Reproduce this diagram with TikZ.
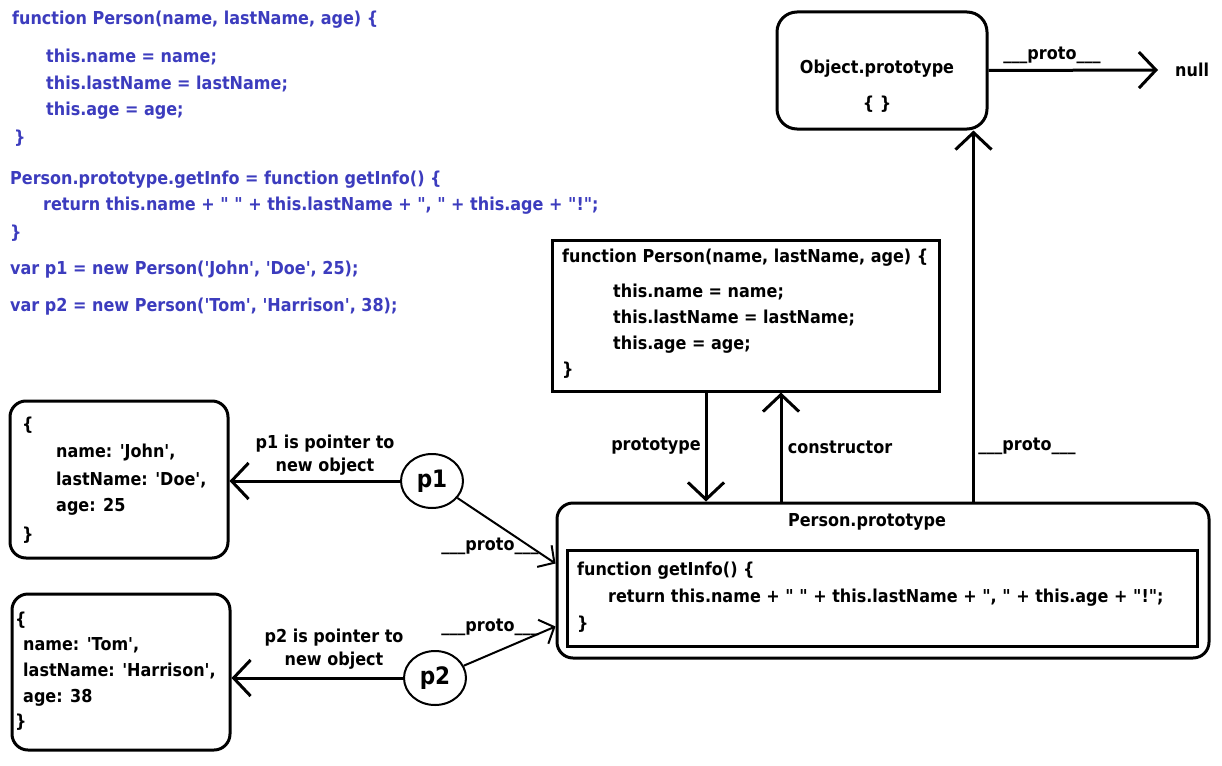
\documentclass[tikz,border=0pt]{standalone}
\usepackage{fontspec}
\setmainfont{DejaVu Sans}[Ligatures=TeXOff,FakeStretch=0.9]
\usetikzlibrary{arrows.meta,shapes.geometric}
\definecolor{codeblue}{RGB}{60,60,190}
\begin{document}
\begin{tikzpicture}[x=1pt,y=-1pt,
  txt/.style={anchor=west,inner sep=0pt,font=\fontsize{17.8}{20}\selectfont\bfseries},
  btxt/.style={txt,text=codeblue},
  ctxt/.style={txt,anchor=center},
  box/.style={draw,line width=3pt,inner sep=0pt},
  rbox/.style={box,rounded corners=16pt},
  ptr/.style={draw,ellipse,line width=2pt,minimum width=62pt,minimum height=54pt,inner sep=0pt,font=\fontsize{24}{26}\selectfont\bfseries},
  arr/.style={line width=3pt,-{Straight Barb[length=17pt,width=36pt]}},
  arrs/.style={line width=2pt,-{Straight Barb[length=12pt,width=26pt]}}]
\useasboundingbox[fill=white] (0,0) rectangle (1222,765);

% top-left code
\node[btxt] (c1) at (12,20) {function Person(name, lastName, age) \{};
\node[btxt] (c2) at (46,57) {this.name = name;};
\node[btxt] (c3) at (46,84) {this.lastName = lastName;};
\node[btxt] (c4) at (46,111) {this.age = age;};
\node[btxt] (c5) at (14,138) {\}};
\node[btxt] (c6) at (10,180) {Person.prototype.getInfo = function getInfo() \{};
\node[btxt] (c7) at (43,206) {return this.name + " " + this.lastName + ", " + this.age + "!";};
\node[btxt] (c8) at (10,233) {\}};
\node[btxt] (c9) at (10,270) {var p1 = new Person('John', 'Doe', 25);};
\node[btxt] (c10) at (10,307) {var p2 = new Person('Tom', 'Harrison', 38);};

% constructor box
\node[box,minimum width=387pt,minimum height=151pt] (ctor) at (745.5,315.5) {};
\node[txt] (k1) at (562,258) {function Person(name, lastName, age) \{};
\node[txt] (k2) at (613,292) {this.name = name;};
\node[txt] (k3) at (613,318) {this.lastName = lastName;};
\node[txt] (k4) at (613,345) {this.age = age;};
\node[txt] (k5) at (562,370) {\}};

% Object.prototype
\node[rbox,rounded corners=20pt,minimum width=210pt,minimum height=117pt] (objproto) at (882,70.5) {};
\node[ctxt] (o1) at (877,69) {Object.prototype};
\node[ctxt] (o2) at (877,104) {\{ \}};
\node[txt] (null) at (1175,70) {null};
\draw[arr] (objproto.east) -- ([xshift=-17pt]null.west);
\node[ctxt] (l0) at (1052,55) {\_\_\_proto\_\_\_};

% Person.prototype
\node[rbox,minimum width=652pt,minimum height=155pt] (pproto) at (883,580.5) {};
\node[ctxt] (pp) at (867,522) {Person.prototype};
\node[box,minimum width=630pt,minimum height=96pt] (inner) at (882,598) {};
\node[txt] (g1) at (577,571) {function getInfo() \{};
\node[txt] (g2) at (608,598) {return this.name + " " + this.lastName + ", " + this.age + "!";};
\node[txt] (g3) at (577,624) {\}};

% links ctor / Person.prototype / Object.prototype
\draw[arr] ([xshift=-39.5pt]ctor.south) -- ([xshift=-39.5pt]ctor.south |- pproto.north);
\node[ctxt] (l1) at (656,446) {prototype};
\draw[arr] ([xshift=35.5pt]ctor.south |- pproto.north) -- ([xshift=35.5pt]ctor.south);
\node[ctxt] (l2) at (840,447) {constructor};
\draw[arr] ([xshift=-15pt]objproto.south east |- pproto.north) -- ([xshift=-15pt]objproto.south east);
\node[ctxt] (l3) at (1027,446) {\_\_\_proto\_\_\_};

% objects
\node[rbox,minimum width=218pt,minimum height=157pt] (john) at (119,479.5) {};
\node[txt] (j1) at (22,425) {\{};
\node[txt] (j2) at (56,453) {name: 'John',};
\node[txt] (j3) at (56,480) {lastName: 'Doe',};
\node[txt] (j4) at (56,507) {age: 25};
\node[txt] (j5) at (22,535) {\}};

\node[rbox,minimum width=218pt,minimum height=156pt] (tom) at (121,672) {};
\node[txt] (t1) at (15,620) {\{};
\node[txt] (t2) at (23,645) {name: 'Tom',};
\node[txt] (t3) at (23,671) {lastName: 'Harrison',};
\node[txt] (t4) at (23,698) {age: 38};
\node[txt] (t5) at (15,722) {\}};

% pointers
\node[ptr] (p1) at (432,481) {p1};
\node[ptr] (p2) at (435,678) {p2};
\draw[arr] (p1) -- (p1 -| john.east);
\draw[arr] (p2) -- (p2 -| tom.east);
\node[ctxt,align=center] (lp1) at (325,455.5) {p1 is pointer to\\[3pt]new object};
\node[ctxt,align=center] (lp2) at (334,649.5) {p2 is pointer to\\[3pt]new object};
\draw[arrs] (p1) -- ([yshift=17pt]pproto.west);
\draw[arrs] (p2) -- ([yshift=-46pt]pproto.west);
\node[ctxt] (l4) at (490,546) {\_\_\_proto\_\_\_};
\node[ctxt] (l5) at (490,627) {\_\_\_proto\_\_\_};
\end{tikzpicture}
\end{document}
